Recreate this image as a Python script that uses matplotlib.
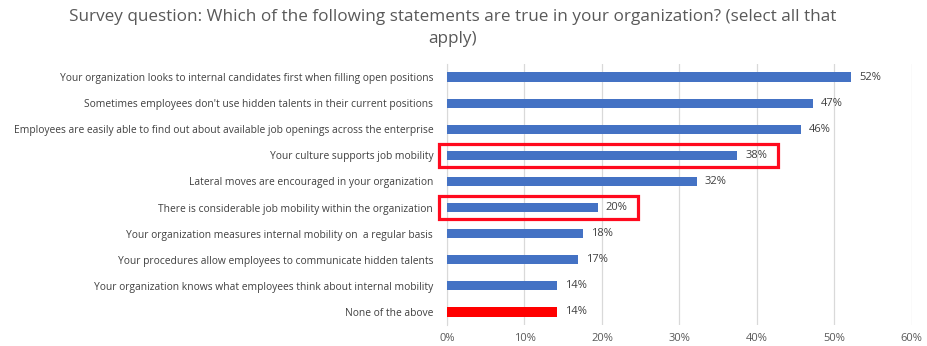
import matplotlib.pyplot as plt
from matplotlib.patches import Rectangle
from matplotlib.ticker import PercentFormatter

plt.rcParams['font.family'] = ['Open Sans', 'DejaVu Sans']

# categories from top to bottom
labels = [
    "Your organization looks to internal candidates first when filling open positions",
    "Sometimes employees don't use hidden talents in their current positions",
    "Employees are easily able to find out about available job openings across the enterprise",
    "Your culture supports job mobility",
    "Lateral moves are encouraged in your organization",
    "There is considerable job mobility within the organization",
    "Your organization measures internal mobility on  a regular basis",
    "Your procedures allow employees to communicate hidden talents",
    "Your organization knows what employees think about internal mobility",
    "None of the above",
]
values = [52.2, 47.2, 45.7, 37.5, 32.3, 19.5, 17.6, 16.9, 14.2, 14.2]
shown = ["52%", "47%", "46%", "38%", "32%", "20%", "18%", "17%", "14%", "14%"]
highlight = [3, 5]
ticks = [0, 10, 20, 30, 40, 50, 60]

blue = '#4472C4'
red = '#FF0000'
colors = [red if l == "None of the above" else blue for l in labels]

fig = plt.figure(figsize=(9.28, 3.46), dpi=100)
ax = fig.add_axes([0.4817, 0.0607, 0.5008, 0.7543])

ypos = list(range(len(labels)))
ax.barh(ypos, values, height=0.35, color=colors, zorder=3)
for y, v, s in zip(ypos, values, shown):
    ax.text(v + 1.0, y, s, va='center', ha='left', fontsize=8, color='#404040')

# red boxes around two rows
for i in highlight:
    right = values[i] + 5.2
    ax.add_patch(Rectangle((-1.0, i - 0.44), right + 1.0, 0.88, fill=False,
                           edgecolor='#FF0A1E', linewidth=2.3, clip_on=False, zorder=4))

ax.set_xlim(0, 60)
ax.set_ylim(len(labels) - 0.5, -0.5)
ax.set_xticks(ticks)
ax.xaxis.set_major_formatter(PercentFormatter(decimals=0))
ax.set_yticks(ypos)
ax.set_yticklabels(labels)
ax.tick_params(axis='y', length=0, pad=10, labelsize=7.4, labelcolor='#404040')
ax.tick_params(axis='x', length=0, pad=6, labelsize=8, labelcolor='#595959')
ax.grid(axis='x', color='#D9D9D9', linewidth=0.9, zorder=0)
for side in ['top', 'right', 'bottom']:
    ax.spines[side].set_visible(False)
ax.spines['left'].set_color('#D9D9D9')

fig.text(0.488, 0.975, "Survey question: Which of the following statements are true in your organization? (select all that\napply)",
         ha='center', va='top', fontsize=12.3, color='#595959', linespacing=1.55)

fig.savefig('out.png', dpi=100)
